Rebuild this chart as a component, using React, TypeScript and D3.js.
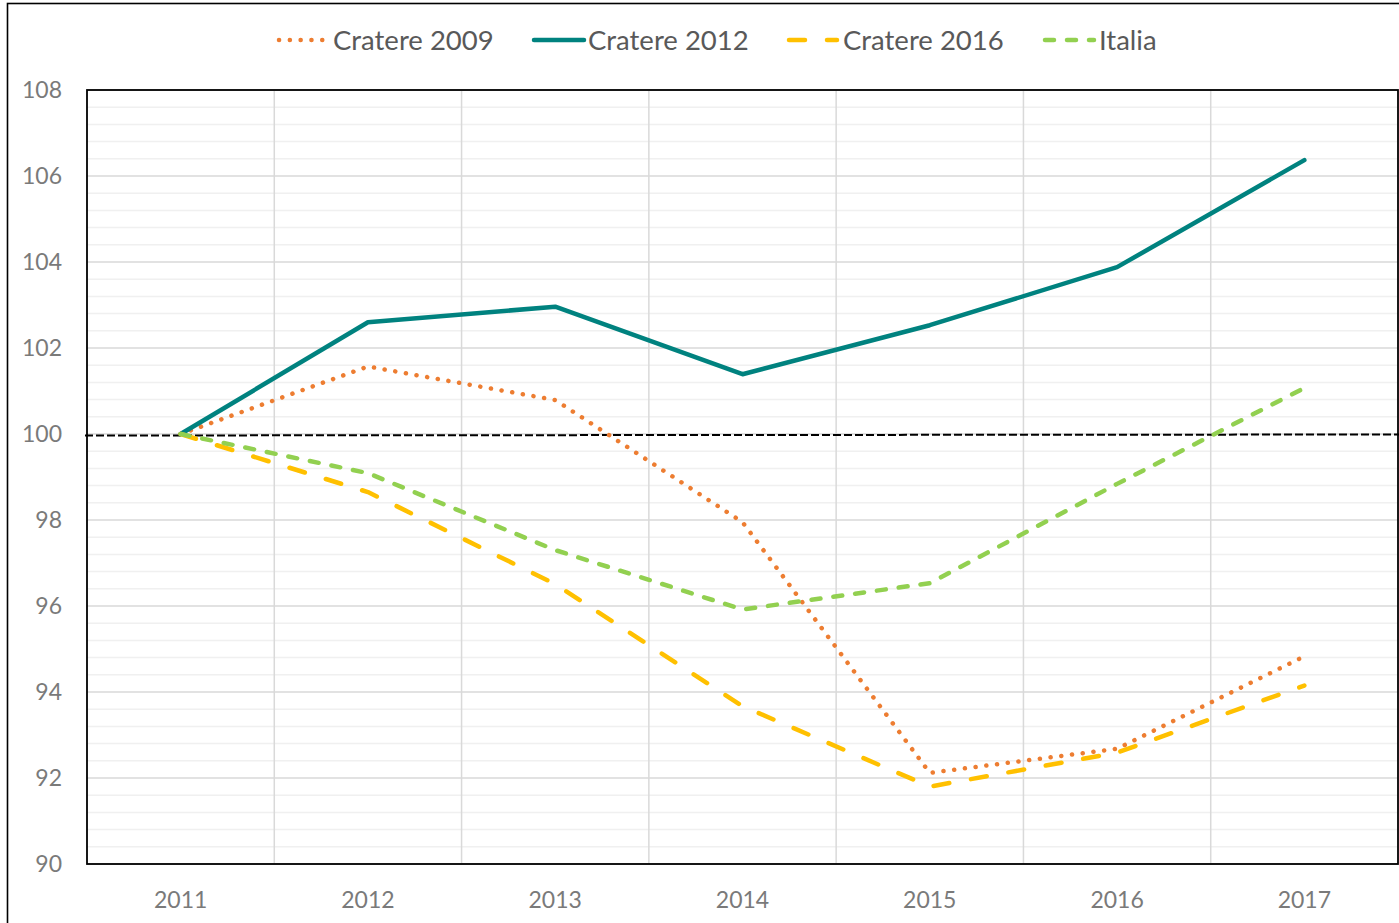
import React from "react";
import * as d3 from "d3";

const years = ["2011", "2012", "2013", "2014", "2015", "2016", "2017"];
const cratere2009 = [100, 101.57, 100.79, 97.95, 92.12, 92.68, 94.83];
const cratere2012 = [100, 102.6, 102.96, 101.39, 102.53, 103.88, 106.37];
const cratere2016 = [100, 98.65, 96.51, 93.67, 91.8, 92.59, 94.15];
const italia = [100, 99.09, 97.3, 95.92, 96.53, 98.84, 101.07];
const yTicks = [90, 92, 94, 96, 98, 100, 102, 104, 106, 108];
const baseline = 100;

const series = [
  { name: "Cratere 2009", values: cratere2009, color: "#ED7D31", dash: "0.1 10.7", cap: "round", width: 4.5 },
  { name: "Cratere 2012", values: cratere2012, color: "#00827F", dash: "", cap: "round", width: 4.5 },
  { name: "Cratere 2016", values: cratere2016, color: "#FFC000", dash: "16 22", cap: "round", width: 4.5 },
  { name: "Italia", values: italia, color: "#92D050", dash: "9 13", cap: "round", width: 4.5 },
];

const legendItems = [
  { lx1: 279, lx2: 324, tx: 333 },
  { lx1: 534, lx2: 584, tx: 588 },
  { lx1: 789, lx2: 837, tx: 843 },
  { lx1: 1045, lx2: 1094, tx: 1099 },
];

export default function App() {
  const W = 1399, H = 923;
  const left = 87, right = 1398, top = 90, bottom = 864;
  const x = d3.scaleBand<string>().domain(years).range([left, right]);
  const y = d3.scaleLinear().domain([90, 108]).range([bottom, top]);
  const cx = (d: string) => (x(d) as number) + x.bandwidth() / 2;
  const minor = d3.range(90, 108.001, 0.4).filter((v) => Math.abs(v / 2 - Math.round(v / 2)) > 0.01);
  const line = d3
    .line<number>()
    .x((_, i) => cx(years[i]))
    .y((v) => y(v));
  const font = "Lato, 'Open Sans', sans-serif";

  return (
    <svg width={W} height={H} style={{ position: "absolute", left: 0, top: 0, background: "#fff" }}>
      <rect x={0} y={0} width={W} height={H} fill="#fff" />
      <rect x={7.5} y={3.5} width={W + 10} height={H + 10} fill="none" stroke="#000" strokeWidth={1.6} />
      {/* minor grid */}
      {minor.map((v) => (
        <line key={"m" + v} x1={left} x2={right} y1={y(v)} y2={y(v)} stroke="#f0f0f0" strokeWidth={1.5} />
      ))}
      {/* major grid */}
      {yTicks.map((v) => (
        <line key={"g" + v} x1={left} x2={right} y1={y(v)} y2={y(v)} stroke="#d9d9d9" strokeWidth={1.5} />
      ))}
      {years.slice(1).map((yr) => (
        <line key={"v" + yr} x1={x(yr)} x2={x(yr)} y1={top} y2={bottom} stroke="#d9d9d9" strokeWidth={1.5} />
      ))}
      {/* plot border */}
      <rect x={left} y={top} width={right - left} height={bottom - top} fill="none" stroke="#000" strokeWidth={1.8} />
      {/* baseline */}
      <line x1={left - 2} x2={W} y1={y(baseline) + 1.5} y2={y(baseline) + 0.5} stroke="#000" strokeWidth={2} strokeDasharray="8 3" />
      {/* series */}
      {series.map((s) => (
        <path
          key={s.name}
          d={line(s.values) as string}
          fill="none"
          stroke={s.color}
          strokeWidth={s.width}
          strokeDasharray={s.dash || undefined}
          strokeLinecap={s.cap as any}
          strokeLinejoin="round"
        />
      ))}
      {/* y labels */}
      {yTicks.map((v) => (
        <text key={"yl" + v} x={62} y={y(v) + 8} textAnchor="end" fontFamily={font} fontSize={23} fill="#7a7a7a">
          {v}
        </text>
      ))}
      {/* x labels */}
      {years.map((yr) => (
        <text key={"xl" + yr} x={cx(yr)} y={908} textAnchor="middle" fontFamily={font} fontSize={23} fill="#7a7a7a">
          {yr}
        </text>
      ))}
      {/* legend */}
      {series.map((s, i) => (
        <g key={"lg" + s.name}>
          <line
            x1={legendItems[i].lx1}
            x2={legendItems[i].lx2}
            y1={40}
            y2={40}
            stroke={s.color}
            strokeWidth={s.width}
            strokeDasharray={s.dash || undefined}
            strokeLinecap={s.cap as any}
          />
          <text x={legendItems[i].tx} y={50} fontFamily={font} fontSize={27.5} fill="#595959">
            {s.name}
          </text>
        </g>
      ))}
    </svg>
  );
}
